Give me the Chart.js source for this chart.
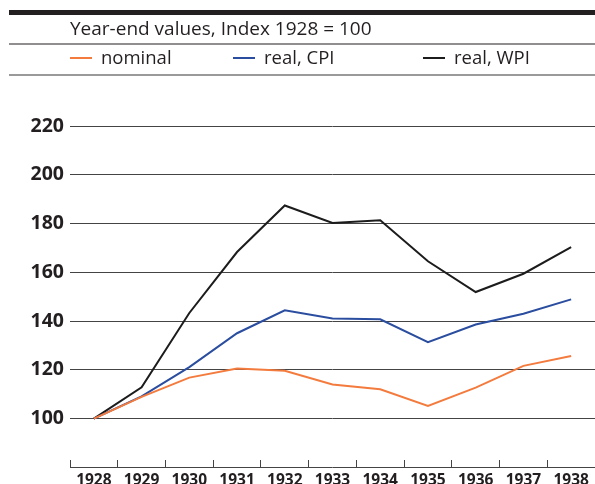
<!DOCTYPE html>
<html>
<head>
<meta charset="utf-8">
<script src="https://cdn.jsdelivr.net/npm/chart.js@4"></script>
<style>
  html, body { margin: 0; padding: 0; background: #fff; }
  #wrap { width: 595px; height: 484px; }
</style>
</head>
<body>
<div id="wrap"><canvas id="chart0" width="595" height="484"></canvas></div>
<script>
// year-end values, index 1928 = 100
const years = ['1928', '1929', '1930', '1931', '1932', '1933', '1934', '1935', '1936', '1937', '1938'];
const nominal = [100, 108.9, 116.8, 120.5, 119.6, 114.0, 112.0, 105.2, 112.7, 121.6, 125.7];
const realCPI = [100, 109.1, 121.1, 135.0, 144.4, 141.0, 140.7, 131.3, 138.6, 143.0, 148.9];
const realWPI = [100, 112.8, 143.3, 168.3, 187.4, 180.2, 181.3, 164.5, 151.9, 159.4, 170.3];
const yTicks = [100, 120, 140, 160, 180, 200, 220];
const subtitle = 'Year-end values, Index 1928 = 100';

const INK = '#231f20';

//header: rules, subtitle, legend
const headerPlugin = {
  id: 'header',
  afterDraw(chart) {
    const ctx = chart.ctx;
    ctx.save();
    // thick top rule
    ctx.fillStyle = INK;
    ctx.fillRect(9, 10, 586, 5);
    // thin rule under subtitle
    ctx.fillRect(9, 43.5, 586, 1);
    // grey rule under legend
    ctx.fillStyle = '#9a9a9a';
    ctx.fillRect(9, 74, 586, 2);

    ctx.fillStyle = INK;
    ctx.textBaseline = 'alphabetic';
    ctx.font = '19px "Open Sans"';
    ctx.fillText(subtitle, 70, 35);

    // legend items at fixed columns
    const cols = [70, 233, 423];
    ctx.font = '18.5px "Open Sans"';
    chart.data.datasets.forEach((ds, i) => {
      ctx.fillStyle = ds.borderColor;
      ctx.fillRect(cols[i], 57, 22, 2);
      ctx.fillStyle = INK;
      ctx.fillText(ds.label, cols[i] + 31, 64);
    });
    ctx.restore();
  }
};

//x axis baseline under the tick marks
const baselinePlugin = {
  id: 'baseline',
  afterDraw(chart) {
    const ctx = chart.ctx;
    const a = chart.chartArea;
    const y = a.bottom + 7;
    ctx.save();
    ctx.strokeStyle = '#444';
    ctx.lineWidth = 1;
    ctx.beginPath();
    ctx.moveTo(a.left, y + 0.5);
    ctx.lineTo(a.right, y + 0.5);
    ctx.stroke();
    ctx.restore();
  }
};

function lineSet(label, data, color) {
  return {
    label: label,
    data: data,
    borderColor: color,
    backgroundColor: color,
    borderWidth: 2,
    pointRadius: 0,
    tension: 0,
    fill: false
  };
}

const ctx = document.getElementById('chart0').getContext('2d');
new Chart(ctx, {
  type: 'line',
  data: {
    labels: years,
    datasets: [
      lineSet('nominal', nominal, '#f47b3e'),
      lineSet('real, CPI', realCPI, '#2a4d9f'),
      lineSet('real, WPI', realWPI, '#1c1c1c')
    ]
  },
  options: {
    responsive: false,
    animation: false,
    devicePixelRatio: 1,
    layout: { padding: { top: 126, left: 0, right: 0, bottom: 0 } },
    plugins: {
      legend: { display: false },
      title: { display: false },
      tooltip: { enabled: false }
    },
    scales: {
      x: {
        type: 'category',
        offset: true,
        grid: {
          offset: true,
          drawOnChartArea: false,
          drawTicks: true,
          tickLength: 7,
          color: '#444',
          lineWidth: 1
        },
        border: { display: false },
        ticks: {
          color: INK,
          padding: 4,
          maxRotation: 0,
          autoSkip: false,
          font: { family: '"Open Sans"', size: 15.5, weight: 'bold' }
        },
        afterFit(scale) { scale.height = 24; }
      },
      y: {
        min: 83,
        max: 220,
        afterBuildTicks(scale) {
          scale.ticks = yTicks.map(v => ({ value: v }));
        },
        grid: {
          drawTicks: false,
          color: '#444',
          lineWidth: 1
        },
        border: { display: false },
        ticks: {
          color: INK,
          padding: 6,
          font: { family: '"Open Sans"', size: 19.5, weight: 'bold' }
        },
        afterFit(scale) { scale.width = 70; }
      }
    }
  },
  plugins: [headerPlugin, baselinePlugin]
});
</script>
</body>
</html>
